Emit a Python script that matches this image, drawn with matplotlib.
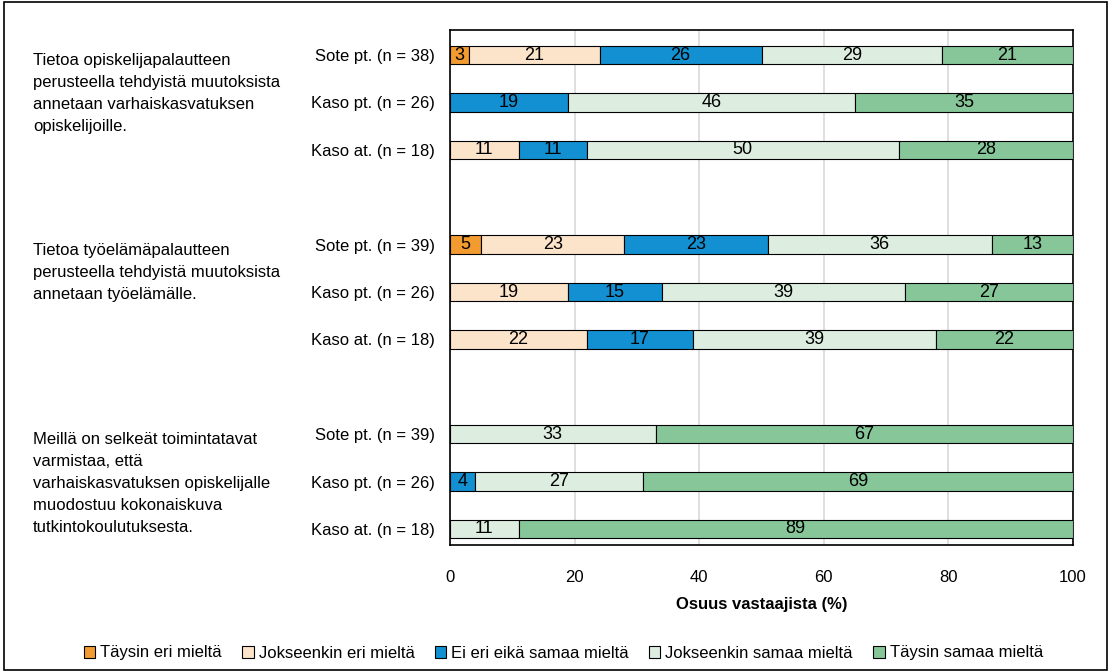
import numpy as np
import matplotlib.pyplot as plt
from matplotlib.patches import Rectangle

plt.rcParams['font.family'] = ['Liberation Sans Narrow', 'Liberation Sans', 'DejaVu Sans']

# vastaajaryhmät ja väittämät
rivit = ['Sote pt. (n = 38)', 'Kaso pt. (n = 26)', 'Kaso at. (n = 18)',
         'Sote pt. (n = 39)', 'Kaso pt. (n = 26)', 'Kaso at. (n = 18)',
         'Sote pt. (n = 39)', 'Kaso pt. (n = 26)', 'Kaso at. (n = 18)']
vaittamat = ['Tietoa opiskelijapalautteen\nperusteella tehdyistä muutoksista\nannetaan varhaiskasvatuksen\nopiskelijoille.',
             'Tietoa työelämäpalautteen\nperusteella tehdyistä muutoksista\nannetaan työelämälle.',
             'Meillä on selkeät toimintatavat\nvarmistaa, että\nvarhaiskasvatuksen opiskelijalle\nmuodostuu kokonaiskuva\ntutkintokoulutuksesta.']
luokat = ['Täysin eri mieltä', 'Jokseenkin eri mieltä', 'Ei eri eikä samaa mieltä',
          'Jokseenkin samaa mieltä', 'Täysin samaa mieltä']

taysin_eri = [3, 0, 0, 5, 0, 0, 0, 0, 0]
jokseenkin_eri = [21, 0, 11, 23, 19, 22, 0, 0, 0]
ei_eri_ei_samaa = [26, 19, 11, 23, 15, 17, 0, 4, 0]
jokseenkin_samaa = [29, 46, 50, 36, 39, 39, 33, 27, 11]
taysin_samaa = [21, 35, 28, 13, 27, 22, 67, 69, 89]

varit = ['#F29B30', '#FCE4CB', '#1390D2', '#DDEEE1', '#86C699']

sarjat = [taysin_eri, jokseenkin_eri, ei_eri_ei_samaa, jokseenkin_samaa, taysin_samaa]
ypos = np.array([0, 1, 2, 4, 5, 6, 8, 9, 10])

fig = plt.figure(figsize=(11.11, 6.72), dpi=100)
ax = fig.add_axes([450 / 1111, 1 - 545 / 672, 623 / 1111, 515 / 672])

vasen = np.zeros(len(rivit))
for arvot, vari in zip(sarjat, varit):
    arvot = np.array(arvot, dtype=float)
    palkit = ax.barh(ypos, arvot, left=vasen, height=0.39, color=vari,
                     edgecolor='black', linewidth=0.8, zorder=3)
    for p, v in zip(palkit, arvot):
        if v > 0:
            ax.text(p.get_x() + p.get_width() / 2, p.get_y() + p.get_height() / 2,
                    f'{v:.0f}', ha='center', va='center', fontsize=13, zorder=4)
    vasen += arvot

ax.set_xlim(0, 100)
ax.set_ylim(10.34, -0.53)
ax.set_xticks(range(0, 101, 20))
ax.tick_params(axis='x', labelsize=12, length=0, pad=18)
ax.set_yticks(ypos)
ax.set_yticklabels(rivit, fontsize=12)
ax.tick_params(axis='y', length=0, pad=11)
ax.xaxis.grid(True, color='#D9D9D9', linewidth=1.2, zorder=0)
for s in ax.spines.values():
    s.set_color('black')
    s.set_linewidth(1.2)
ax.set_xlabel('Osuus vastaajista (%)', fontsize=12, fontweight='bold', labelpad=9)

# väittämien tekstit vasempaan reunaan
for teksti, y in zip(vaittamat, [0, 4, 8]):
    ax.text(33 / 1111, ax.transData.transform((0, y))[1] / (6.72 * 100) + 0.003, teksti,
            transform=fig.transFigure, ha='left', va='top', fontsize=12, linespacing=1.58)

# selite
kahvat = [Rectangle((0, 0), 1, 1, facecolor=v, edgecolor='black', linewidth=0.8) for v in varit]
fig.legend(kahvat, luokat, loc='center', bbox_to_anchor=(0.507, 1 - 653 / 672), ncol=5,
           frameon=False, fontsize=12, handlelength=0.7, handleheight=0.7,
           handletextpad=0.3, columnspacing=1.2)

# kuvan reunus
fig.patches.append(Rectangle((0.004, 0.003), 0.992, 0.994, transform=fig.transFigure,
                             fill=False, edgecolor='black', linewidth=1.2))

fig.savefig('out.png', dpi=100)
